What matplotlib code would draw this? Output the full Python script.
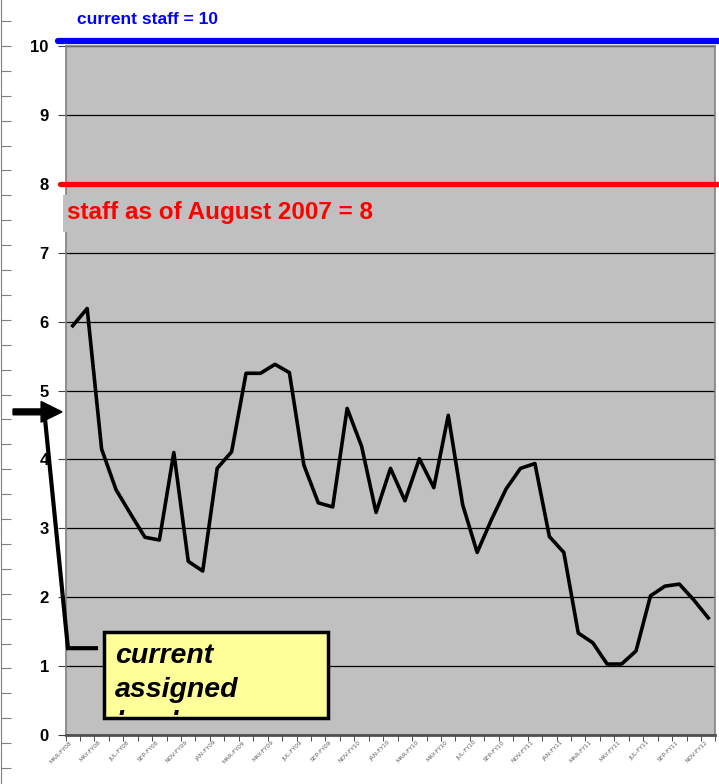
import numpy as np
import matplotlib
matplotlib.use('Agg')
import matplotlib.pyplot as plt
from matplotlib.patches import Rectangle, FancyArrow
from matplotlib.transforms import ScaledTranslation, Bbox, TransformedBbox

# monthly staffing level, MAR-FY08 .. NOV-FY12
staff = [5.94, 6.19, 4.15, 3.56, 3.21, 2.87, 2.83, 4.10, 2.52, 2.38,
         3.87, 4.11, 5.25, 5.25, 5.38, 5.26, 3.92, 3.37, 3.31, 4.74,
         4.19, 3.23, 3.87, 3.40, 4.01, 3.59, 4.64, 3.34, 2.65, 3.13,
         3.57, 3.87, 3.94, 2.88, 2.65, 1.48, 1.34, 1.03, 1.03, 1.22,
         2.02, 2.16, 2.19, 1.96, 1.70]
month_labels = ['MAR-FY08', 'MAY-FY08', 'JUL-FY08', 'SEP-FY08', 'NOV-FY09',
                'JAN-FY09', 'MAR-FY09', 'MAY-FY09', 'JUL-FY09', 'SEP-FY09',
                'NOV-FY10', 'JAN-FY10', 'MAR-FY10', 'MAY-FY10', 'JUL-FY10',
                'SEP-FY10', 'NOV-FY11', 'JAN-FY11', 'MAR-FY11', 'MAY-FY11',
                'JUL-FY11', 'SEP-FY11', 'NOV-FY12']
current_staff = 10
staff_aug07 = 8
assigned_level = 4.69

x = np.arange(1, len(staff) + 1)

fig = plt.figure(figsize=(7.19, 7.84), dpi=100)
ax = fig.add_axes([0.0911, 0.0625, 0.904, 0.8788])
ax.set_facecolor('#C0C0C0')

ax.plot(x, staff, color='black', lw=2.6, zorder=3)

ax.set_xlim(0.5, len(staff) + 0.5)
ax.set_ylim(0, 10)
ax.set_yticks(range(0, 11))
ax.set_yticklabels([str(v) for v in range(0, 11)], fontsize=12,
                   fontweight='bold', family=['Liberation Sans', 'DejaVu Sans'])
ax.tick_params(axis='y', direction='out', length=6, color='#404040', pad=6)
ax.grid(axis='y', color='black', lw=0.9)
ax.set_axisbelow(True)

ax.set_xticks(np.arange(0.5, len(staff) + 1, 1), minor=True)
ax.set_xticks(x[::2])
ax.set_xticklabels(month_labels, rotation=45, ha='right', va='top',
                   fontsize=4.2, color='#606060')
offset = ScaledTranslation(-8 / 100, -6 / 100, fig.dpi_scale_trans)
for lbl in ax.get_xticklabels():
    lbl.set_transform(lbl.get_transform() + offset)
ax.tick_params(axis='x', which='major', length=0)
ax.tick_params(axis='x', which='minor', direction='out', length=4,
               color='#303030')

for s in ax.spines.values():
    s.set_color('#808080')
    s.set_linewidth(1.2)
ax.spines['bottom'].set_color('#505050')
ax.spines['bottom'].set_linewidth(2)

# reference lines (blue one sits a few pixels above the top gridline)
up = ScaledTranslation(0, 5 / 100, fig.dpi_scale_trans)
ax.plot([-0.02, 45.8], [current_staff, current_staff], color='#0000FF',
        lw=4.5, solid_capstyle='round', clip_on=False, zorder=5,
        transform=ax.transData + up)
ax.plot([0.15, 45.8], [staff_aug07, staff_aug07], color='#FF0000',
        lw=3.8, solid_capstyle='round', clip_on=False, zorder=5)

ax.text(1.3, 10.38, 'current staff = %d' % current_staff, color='#0000FF',
        fontsize=12.5, fontweight='bold', va='center', ha='left',
        family=['Liberation Sans', 'DejaVu Sans'], clip_on=False)
ax.add_patch(Rectangle((0.33, 7.3), 24, 0.54, facecolor='#C0C0C0',
                       edgecolor='none', clip_on=False, zorder=4))
ax.text(0.6, 7.59, 'staff as of August 2007 = %d' % staff_aug07,
        color='#FF0000', fontsize=17.5, fontweight='bold', va='center',
        ha='left', family=['Liberation Sans', 'DejaVu Sans'], zorder=5)

# arrow and callout
ax.add_patch(FancyArrow(-3.13, assigned_level, 3.39, 0, width=0.085,
                        head_width=0.3, head_length=1.45,
                        length_includes_head=True, color='black',
                        clip_on=False, zorder=6))
ax.plot([-0.92, 0.67, 2.61], [assigned_level - 0.1, 1.26, 1.26],
        color='black', lw=3, clip_on=False, zorder=6,
        solid_joinstyle='miter')

box = Rectangle((3.17, 0.25), 15.5, 1.24, facecolor='#FFFF99',
                edgecolor='black', lw=2.5, zorder=7)
ax.add_patch(box)
t = ax.text(3.95, 1.33, 'current\nassigned\nlevel', fontsize=20.5,
            fontweight='bold', fontstyle='italic', va='top', ha='left',
            linespacing=1.36, family=['Liberation Sans', 'DejaVu Sans'],
            zorder=8, clip_on=True)
t.set_clip_box(TransformedBbox(Bbox([[3.25, 0.285], [18.6, 1.46]]),
                               ax.transData))

# stray axis on the left edge of the sheet
ax2 = fig.add_axes([0.0015, 0, 0.01, 1])
ax2.set_xlim(0, 1)
ax2.set_ylim(0, 784)
ax2.patch.set_visible(False)
for k in ['top', 'right', 'bottom']:
    ax2.spines[k].set_visible(False)
ax2.spines['left'].set_color('#808080')
ax2.set_xticks([])
ax2.set_yticks(784 - np.arange(21, 784, 24.9))
ax2.set_yticklabels([])
ax2.tick_params(axis='y', direction='in', length=7, color='#808080')

fig.savefig('out.png', dpi=100)
